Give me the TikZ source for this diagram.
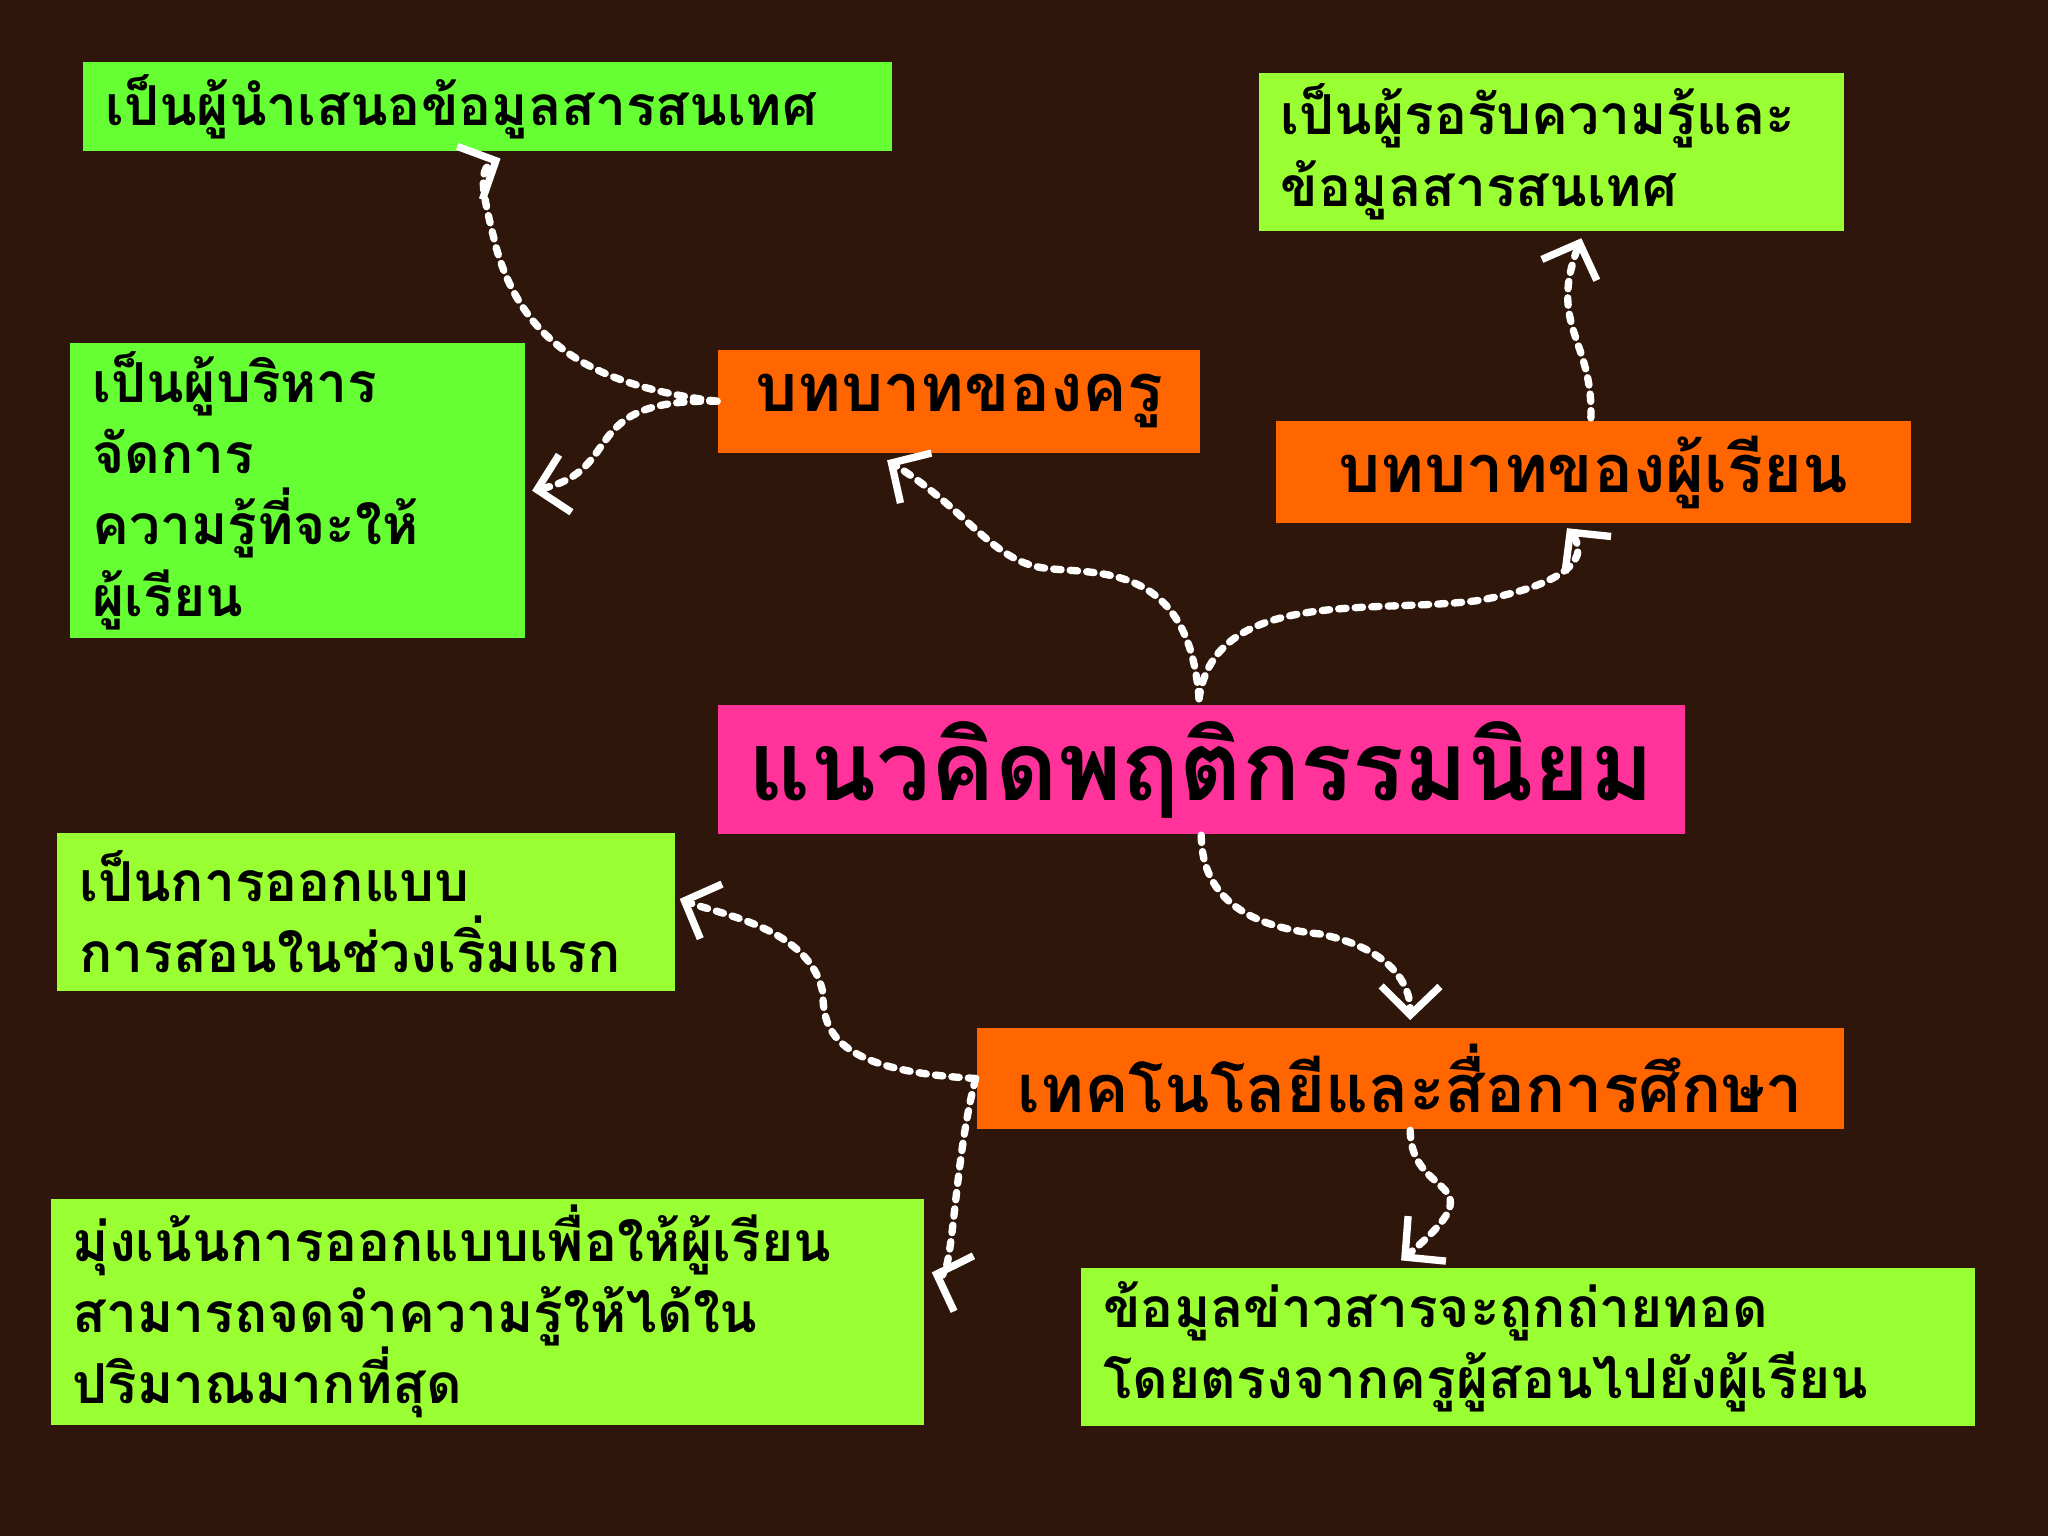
\documentclass[tikz,border=0pt]{standalone}
\usepackage{fontspec}
\newfontfamily\thfont[Script=Thai]{Loma}
\usetikzlibrary{arrows.meta}
\definecolor{bg}{HTML}{2E170A}
\definecolor{gA}{HTML}{66FF33}
\definecolor{gB}{HTML}{99FF33}
\definecolor{org}{HTML}{FF6600}
\definecolor{pnk}{HTML}{FF3399}
\tikzset{
 box/.style={anchor=north west,inner xsep=0.17cm,inner ysep=0cm,align=left,font=\thfont\bfseries\fontsize{12}{15.5}\selectfont,text=black},
 grn/.style={box,fill=gB},
 ora/.style={box,fill=org,align=center,font=\thfont\bfseries\fontsize{14.5}{17}\selectfont},
 link/.style={white,line width=1.6pt,dotted,line cap=round,-{Straight Barb[length=2.2mm,width=4.5mm,line width=1.6pt]}}
}
\begin{document}
\begin{tikzpicture}
\fill[bg] (0,0) rectangle (15.68,-11.76);
\useasboundingbox (0,0) rectangle (15.68,-11.76);
% boxes: text width = W - 0.34
\node[grn,fill=gA,text width=5.85cm,minimum height=0.68cm] (tl) at (0.63,-0.47) {เป็นผู้นำเสนอข้อมูลสารสนเทศ};
\node[grn,text width=4.14cm,minimum height=1.21cm] (tr) at (9.63,-0.55) {เป็นผู้รอรับความรู้และ\\ข้อมูลสารสนเทศ};
\node[grn,fill=gA,text width=3.14cm,minimum height=2.26cm] (lb) at (0.53,-2.62) {เป็นผู้บริหาร\\จัดการ\\ความรู้ที่จะให้\\ผู้เรียน};
\node[ora,text width=3.35cm,minimum height=0.79cm] (kru) at (5.49,-2.67) {บทบาทของครู};
\node[ora,text width=4.52cm,minimum height=0.78cm] (stu) at (9.76,-3.22) {บทบาทของผู้เรียน};
\node[ora,fill=pnk,text width=7.06cm,minimum height=0.99cm,font=\thfont\bfseries\fontsize{21}{24}\selectfont] (ctr) at (5.49,-5.39) {แนวคิดพฤติกรรมนิยม};
\node[grn,text width=4.39cm,minimum height=1.21cm] (des) at (0.43,-6.37) {เป็นการออกแบบ\\การสอนในช่วงเริ่มแรก};
\node[ora,text width=6.30cm,minimum height=0.78cm] (tech) at (7.47,-7.86) {เทคโนโลยีและสื่อการศึกษา};
\node[grn,text width=6.35cm,minimum height=1.73cm] (bl) at (0.38,-9.17) {มุ่งเน้นการออกแบบเพื่อให้ผู้เรียน\\สามารถจดจำความรู้ให้ได้ใน\\ปริมาณมากที่สุด};
\node[grn,text width=6.50cm,minimum height=1.21cm] (br) at (8.27,-9.70) {ข้อมูลข่าวสารจะถูกถ่ายทอด\\โดยตรงจากครูผู้สอนไปยังผู้เรียน};
% connectors
\coordinate (c1) at (9.18,-5.35);
\draw[link] (c1) .. controls (9.1,-4.3) and (8.4,-4.4) .. (8.0,-4.35) .. controls (7.6,-4.3) and (7.4,-3.9) .. ([xshift=-0.55cm,yshift=-0.05cm]kru.south);
\draw[link] (c1) .. controls (9.3,-4.5) and (10.5,-4.7) .. (11.3,-4.6) .. controls (11.9,-4.5) and (12.2,-4.3) .. ([xshift=-0.2cm,yshift=-0.03cm]stu.south);
\draw[link] (kru.west) .. controls (4.5,-2.95) and (4.0,-2.6) .. (3.8,-1.9) .. controls (3.7,-1.5) and (3.65,-1.3) .. ([xshift=0.1cm,yshift=-0.05cm]tl.south);
\draw[link] (kru.west) .. controls (4.4,-3.05) and (4.8,-3.6) .. ([xshift=0.05cm,yshift=0.0cm]lb.east);
\draw[link] (12.18,-3.2) .. controls (12.2,-2.6) and (11.85,-2.5) .. ([xshift=0.23cm,yshift=-0.05cm]tr.south);
\draw[link] (ctr.south) .. controls (9.2,-6.9) and (9.6,-7.1) .. (10.1,-7.15) .. controls (10.6,-7.25) and (10.8,-7.5) .. ([yshift=0.05cm]tech.north);
\draw[link] (tech.west) .. controls (6.4,-8.2) and (6.3,-7.9) .. (6.3,-7.6) .. controls (6.2,-7.1) and (5.5,-7.0) .. ([xshift=0.03cm,yshift=0.1cm]des.east);
\draw[link] (tech.west) .. controls (7.3,-8.9) and (7.3,-9.8) .. ([xshift=0.05cm,yshift=0.3cm]bl.east);
\draw[link] (tech.south) .. controls (10.8,-9.2) and (11.5,-9.0) .. ([xshift=-0.97cm,yshift=0.05cm]br.north);
\end{tikzpicture}
\end{document}
